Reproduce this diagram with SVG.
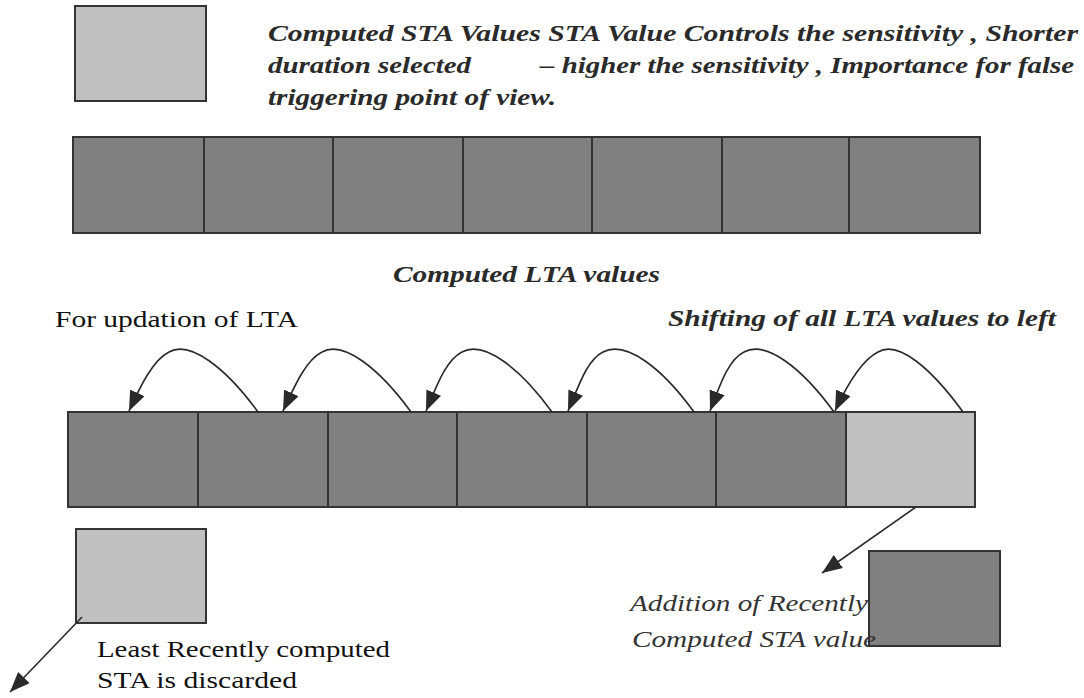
<svg xmlns="http://www.w3.org/2000/svg" width="1084" height="698" viewBox="0 0 1084 698">
<style>
.dk{fill:#808080;stroke:#333;stroke-width:2}
.lt{fill:#c0c0c0;stroke:#333;stroke-width:2}
.bi{font-family:"Liberation Serif","Times New Roman",serif;font-size:24px;font-weight:bold;font-style:italic;fill:#2a2a2a}
.rg{font-family:"Liberation Serif","Times New Roman",serif;font-size:24px;fill:#111}
.it{font-family:"Liberation Serif","Times New Roman",serif;font-size:24px;font-style:italic;fill:#333}
.arr{fill:none;stroke:#2a2a2a;stroke-width:1.6}
</style>
<defs>
<marker id="ah" markerUnits="userSpaceOnUse" markerWidth="22" markerHeight="18" refX="20" refY="8" orient="auto">
<path d="M0,0 L20,8 L0,16 z" fill="#2a2a2a"/>
</marker>
</defs>
<rect width="1084" height="698" fill="#fff"/>

<g id="sta-legend">
<rect class="lt" x="75" y="6" width="131" height="95"/>
<text class="bi" x="268" y="41" textLength="810" lengthAdjust="spacingAndGlyphs">Computed STA Values STA Value Controls the sensitivity , Shorter</text>
<text class="bi" x="268" y="73" textLength="203" lengthAdjust="spacingAndGlyphs">duration selected</text>
<text class="bi" x="540" y="73" textLength="534" lengthAdjust="spacingAndGlyphs">– higher the sensitivity , Importance for false</text>
<text class="bi" x="268" y="105" textLength="288" lengthAdjust="spacingAndGlyphs">triggering point of view.</text>
</g>

<g id="lta-top">
<rect class="dk" x="73" y="137" width="131" height="96"/>
<rect class="dk" x="204" y="137" width="129" height="96"/>
<rect class="dk" x="333" y="137" width="130" height="96"/>
<rect class="dk" x="463" y="137" width="129" height="96"/>
<rect class="dk" x="592" y="137" width="130" height="96"/>
<rect class="dk" x="722" y="137" width="127" height="96"/>
<rect class="dk" x="849" y="137" width="131" height="96"/>
<text class="bi" x="393" y="282" textLength="267" lengthAdjust="spacingAndGlyphs">Computed LTA values</text>
</g>

<g id="labels">
<text class="rg" x="55" y="327" textLength="243" lengthAdjust="spacingAndGlyphs">For updation of LTA</text>
<text class="bi" x="668" y="326" textLength="388" lengthAdjust="spacingAndGlyphs">Shifting of all LTA values to left</text>
</g>

<g id="lta-bottom">
<rect class="dk" x="68" y="412" width="130" height="95"/>
<rect class="dk" x="198" y="412" width="130" height="95"/>
<rect class="dk" x="328" y="412" width="129" height="95"/>
<rect class="dk" x="457" y="412" width="130" height="95"/>
<rect class="dk" x="587" y="412" width="129" height="95"/>
<rect class="dk" x="716" y="412" width="130" height="95"/>
<rect class="lt" x="846" y="412" width="129" height="95"/>
</g>

<g id="discarded">
<rect class="lt" x="76" y="529" width="130" height="94"/>
<text class="rg" x="97" y="657" textLength="293" lengthAdjust="spacingAndGlyphs">Least Recently computed</text>
<text class="rg" x="97" y="688" textLength="200" lengthAdjust="spacingAndGlyphs">STA is discarded</text>
</g>

<g id="new-sta">
<rect class="dk" x="869" y="551" width="131" height="95"/>
<text class="it" x="630" y="611" textLength="238" lengthAdjust="spacingAndGlyphs">Addition of Recently</text>
<text class="it" x="632" y="647" textLength="244" lengthAdjust="spacingAndGlyphs">Computed STA value</text>
</g>

<g id="connectors">
<path class="arr" marker-end="url(#ah)" d="M258,412 C226,368 190,340 169,352 C153,360 141,385 129,411"/>
<path class="arr" marker-end="url(#ah)" d="M411,412 C379,368 343,340 322,352 C306,360 295,385 283,411"/>
<path class="arr" marker-end="url(#ah)" d="M552,412 C520,368 484,340 462,352 C446,360 437,385 426,411"/>
<path class="arr" marker-end="url(#ah)" d="M694,412 C662,368 626,340 603,352 C587,360 579,385 568,411"/>
<path class="arr" marker-end="url(#ah)" d="M834,412 C802,368 766,340 744,352 C728,360 720,385 710,411"/>
<path class="arr" marker-end="url(#ah)" d="M963,412 C931,368 898,340 878,352 C862,360 847,385 835,411"/>
<path class="arr" marker-end="url(#ah)" d="M916,507 L822,573"/>
<path class="arr" marker-end="url(#ah)" d="M82,617 L10,692"/>
</g>
</svg>
